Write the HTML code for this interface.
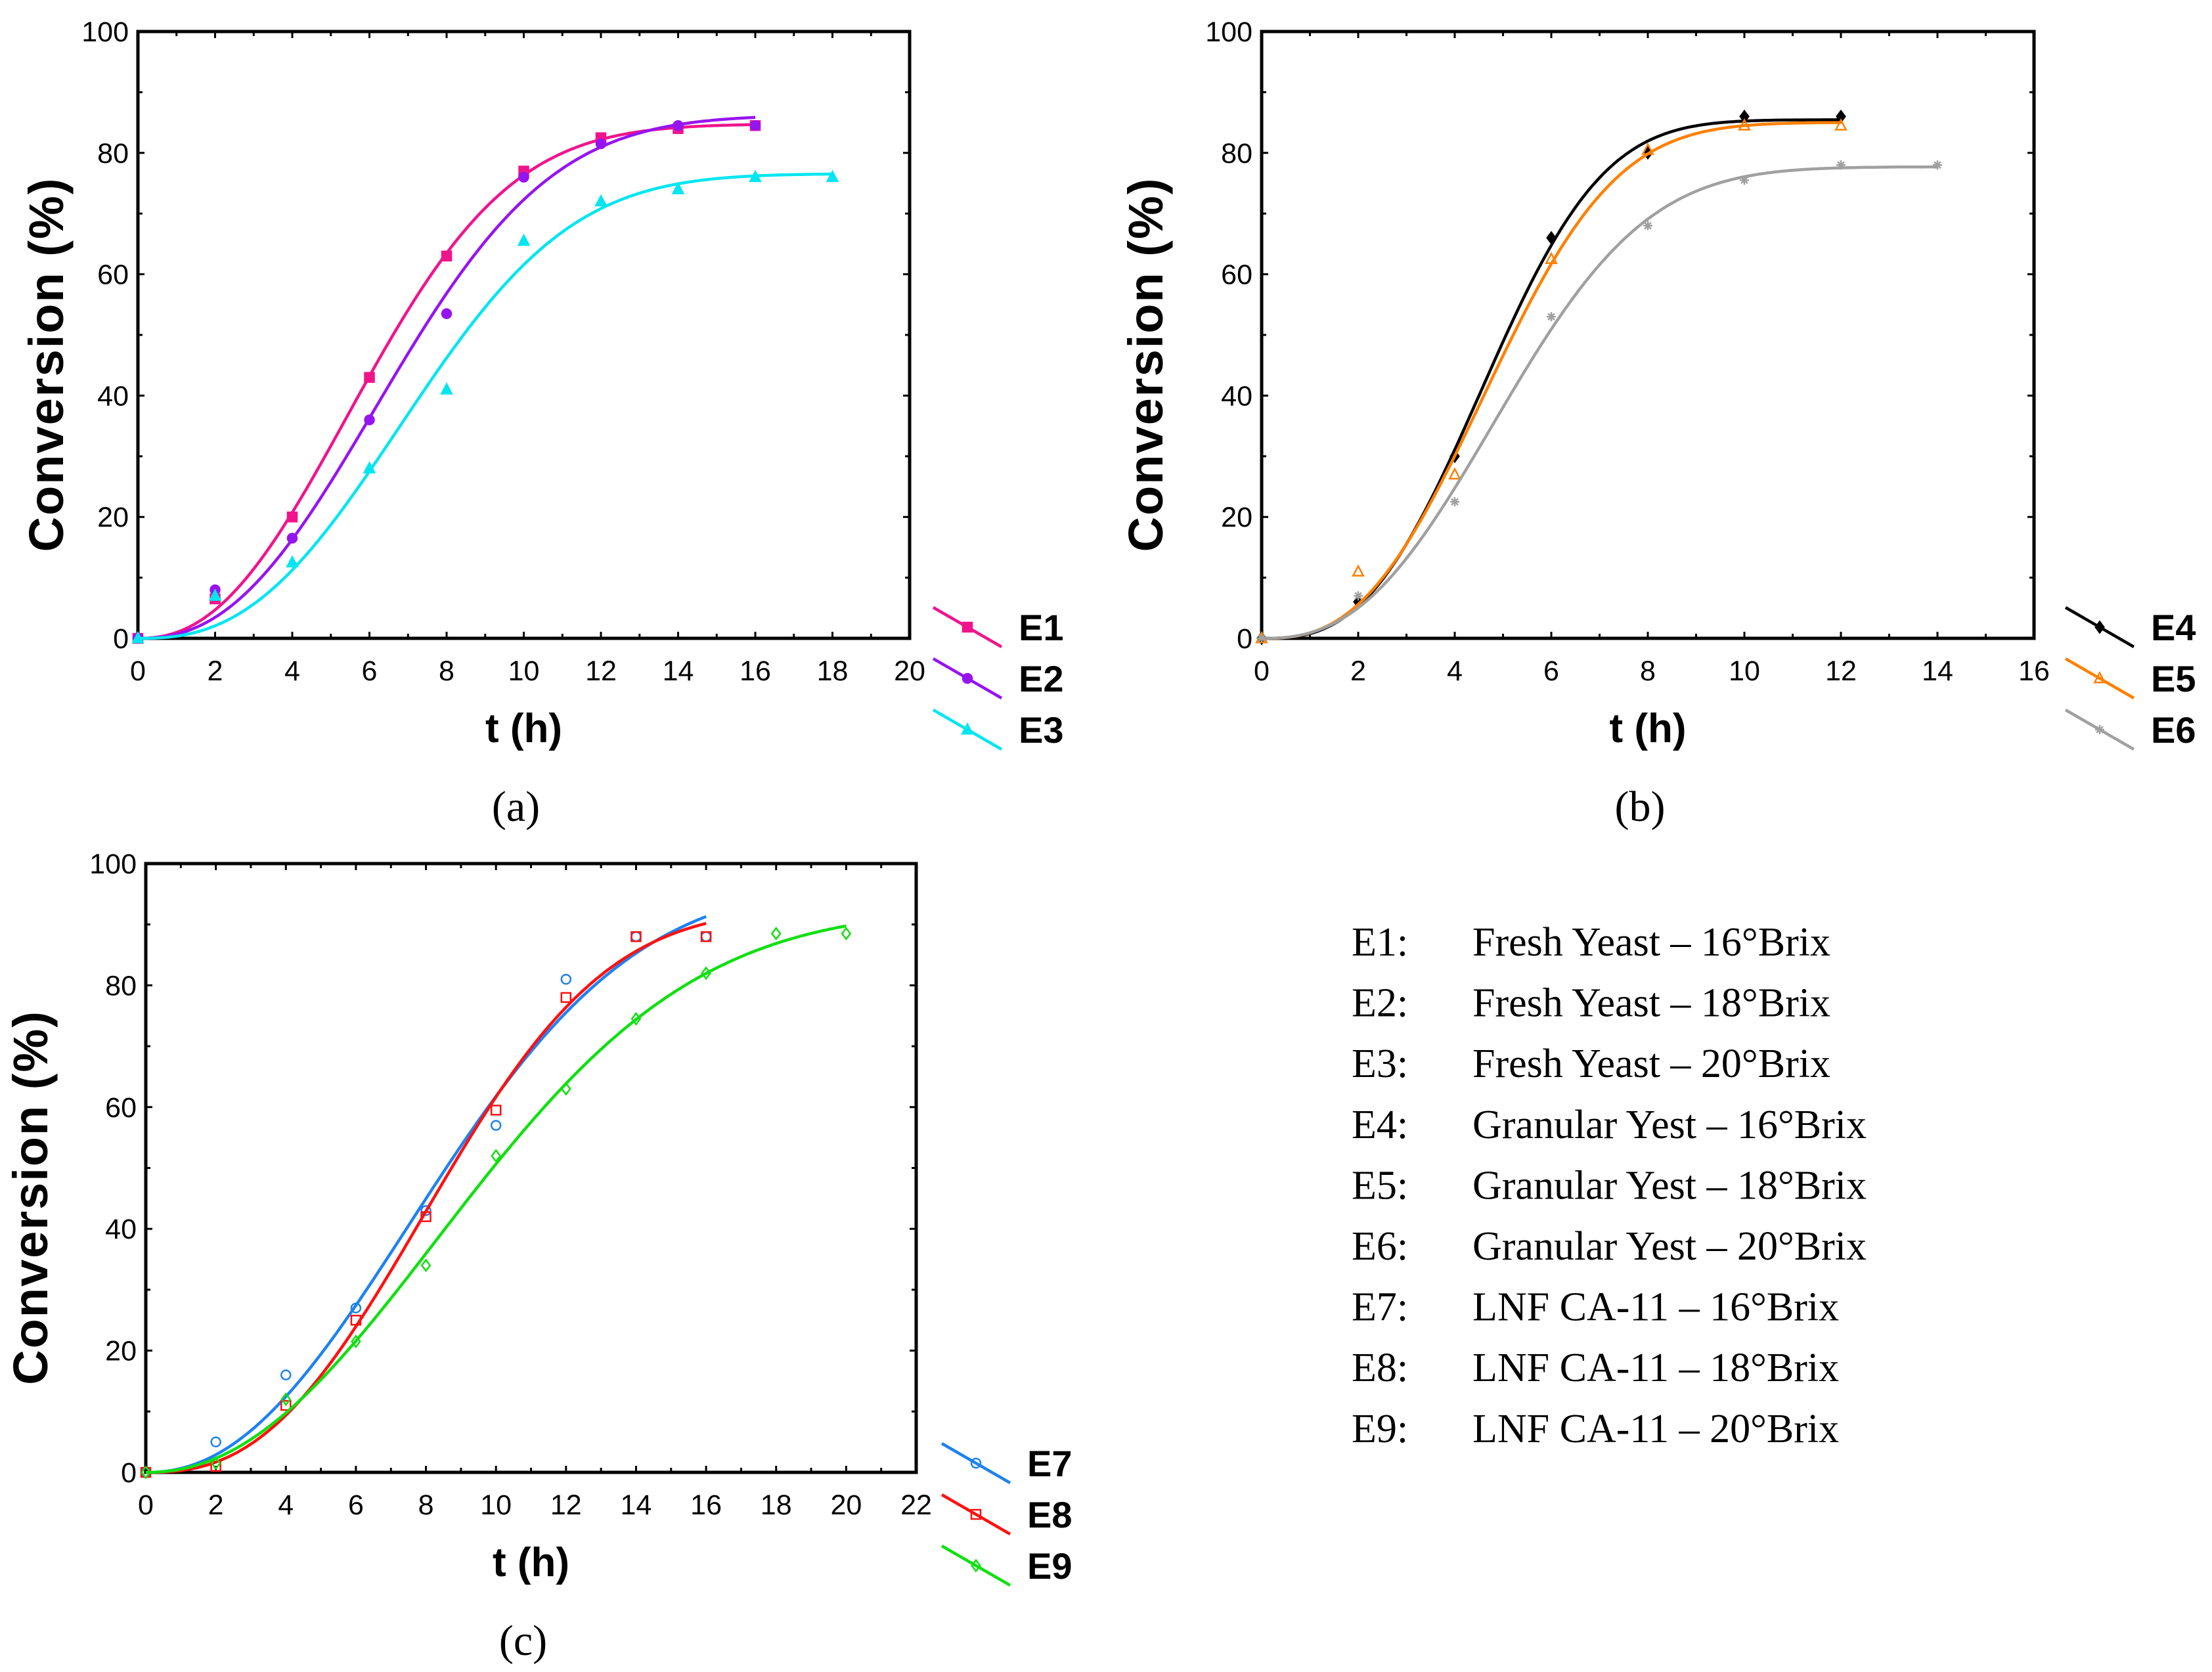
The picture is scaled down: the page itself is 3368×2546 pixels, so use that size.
<!DOCTYPE html>
<html><head><meta charset="utf-8">
<style>
html,body{margin:0;padding:0;background:#fff;}
svg{display:block;}
</style></head>
<body>
<svg id="fig" width="3368" height="2546" viewBox="0 0 3368 2546" xmlns="http://www.w3.org/2000/svg" font-family="Liberation Sans, sans-serif"></svg>
<script>
// ---------- data ----------
const tA = [0,2,4,6,8,10,12,14,16];
const e1 = [0,6.5,20,43,63,77,82.5,84,84.5];
const e2 = [0,8,16.5,36,53.5,76,81.5,84.5,84.5];
const tE3 = [0,2,4,6,8,10,12,14,16,18];
const e3 = [0,7,12.5,28,41,65.5,72,74,76,76];
const tB = [0,2,4,6,8,10,12];
const e4 = [0,6,30,66,80,86,86];
const e5 = [0,11,27,62.5,80.5,84.5,84.5];
const tE6 = [0,2,4,6,8,10,12,14];
const e6 = [0,7,22.5,53,68,75.5,78,78];
const tC = [0,2,4,6,8,10,12,14,16];
const e7 = [0,5,16,27,43,57,81,88,88];
const e8 = [0,1,11,25,42,59.5,78,88,88];
const tE9 = [0,2,4,6,8,10,12,14,16,18,20];
const e9 = [0,1.5,12,21.5,34,52,63,74.5,82,88.5,88.5];
const yTicks = [0,20,40,60,80,100];
const xTicksA = [0,2,4,6,8,10,12,14,16,18,20];
const xTicksB = [0,2,4,6,8,10,12,14,16];
const xTicksC = [0,2,4,6,8,10,12,14,16,18,20,22];
const legendLabels = ["E1:","E2:","E3:","E4:","E5:","E6:","E7:","E8:","E9:"];
const legendDesc = ["Fresh Yeast – 16°Brix","Fresh Yeast – 18°Brix","Fresh Yeast  – 20°Brix","Granular Yest – 16°Brix","Granular Yest – 18°Brix","Granular Yest – 20°Brix","LNF CA-11  – 16°Brix","LNF CA-11 – 18°Brix","LNF CA-11 – 20°Brix"];

const NS="http://www.w3.org/2000/svg";
const svg=document.getElementById('fig');
function mk(tag,attrs,parent){const e=document.createElementNS(NS,tag);for(const k in attrs)e.setAttribute(k,attrs[k]);(parent||svg).appendChild(e);return e;}

// Weibull-type sigmoid fit: y = A*(1-exp(-(x/b)^c))
function sigfit(xs,ys){
  let best={sse:Infinity};
  for(let c=1;c<=5;c+=0.02){
    for(let b=1;b<=25;b+=0.05){
      let sfy=0,sff=0;const f=xs.map(x=>1-Math.exp(-Math.pow(x/b,c)));
      for(let k=0;k<xs.length;k++){sfy+=f[k]*ys[k];sff+=f[k]*f[k];}
      const A=sfy/sff;let sse=0;
      for(let k=0;k<xs.length;k++){const r=ys[k]-A*f[k];sse+=r*r;}
      if(sse<best.sse)best={sse,A,b,c};
    }
  }
  return x=>best.A*(1-Math.exp(-Math.pow(x/best.b,best.c)));
}

function marker(g,type,color,x,y,s){
  let e;
  if(type==='sq'||type==='sqo'){e=mk('rect',{x:x-s/2,y:y-s/2,width:s,height:s,fill:type==='sq'?color:'none',stroke:color,'stroke-width':2.5},g);}
  else if(type==='ci'||type==='cio'){e=mk('circle',{cx:x,cy:y,r:s/2,fill:type==='ci'?color:'none',stroke:color,'stroke-width':2.5},g);}
  else if(type==='tri'||type==='trio'){e=mk('polygon',{points:`${x},${y-s*0.6} ${x-s*0.55},${y+s*0.45} ${x+s*0.55},${y+s*0.45}`,fill:type==='tri'?color:'none',stroke:color,'stroke-width':2.5},g);}
  else if(type==='di'||type==='dio'){e=mk('polygon',{points:`${x},${y-s*0.6} ${x+s*0.45},${y} ${x},${y+s*0.6} ${x-s*0.45},${y}`,fill:type==='di'?color:'none',stroke:color,'stroke-width':2.5},g);}
  else {const r=s/2;e=mk('path',{d:`M${x-r},${y}H${x+r}M${x},${y-r}V${y+r}M${x-r*0.7},${y-r*0.7}L${x+r*0.7},${y+r*0.7}M${x-r*0.7},${y+r*0.7}L${x+r*0.7},${y-r*0.7}`,stroke:color,'stroke-width':2.5,fill:'none'},g);}
  
  
}

function panel(cfg){
  const g=mk('g',{});
  
  
  const {x0,x1,y0,y1,xmax}=cfg;
  const sx=v=>x0+(x1-x0)*v/xmax, sy=v=>y0-(y0-y1)*v/100;
  const tg=mk('g',{stroke:'#000','stroke-width':3},g);
  
  
  for(let v=0;v<=100;v+=10){const L=v%20===0?10:7;mk('line',{x1:x0,y1:sy(v),x2:x0+L,y2:sy(v)},tg);mk('line',{x1:x1,y1:sy(v),x2:x1-L,y2:sy(v)},tg);}
  for(let v=0;v<=xmax;v+=1){const L=v%2===0?10:7;mk('line',{x1:sx(v),y1:y0,x2:sx(v),y2:y0-L},tg);mk('line',{x1:sx(v),y1:y1,x2:sx(v),y2:y1+L},tg);}
  const fr=mk('rect',{x:x0,y:y1,width:x1-x0,height:y0-y1,fill:'none',stroke:'#000','stroke-width':5},g);
  
  
  yTicks.forEach(v=>{const t=mk('text',{x:x0-14,y:sy(v)+15,'text-anchor':'end','font-size':43},g);t.textContent=v;
    
    });
  cfg.xt.forEach(v=>{const t=mk('text',{x:sx(v),y:y0+64,'text-anchor':'middle','font-size':43},g);t.textContent=v;
    
    });
  const yt=mk('text',{x:0,y:0,transform:`translate(${cfg.ytx},${(y0+y1)/2+45}) rotate(-90)`,'text-anchor':'middle','font-size':74,'font-weight':'bold','letter-spacing':2},g);
  yt.textContent='Conversion (%)';
  
  
  const xtt=mk('text',{x:(x0+x1)/2,y:y0+158,'text-anchor':'middle','font-size':62,'font-weight':'bold'},g);
  xtt.textContent='t (h)';
  
  
  const cap=mk('text',{x:(x0+x1)/2-12,y:y0+278,'text-anchor':'middle','font-size':66,'font-family':'Liberation Serif, serif'},g);
  cap.textContent=cfg.cap;
  
  
  cfg.series.forEach((s,i)=>{
    const sg=mk('g',{},g);
    
    
    const fn=sigfit(s.t,s.v);
    const tmax=s.t[s.t.length-1];let d='';
    for(let k=0;k<=200;k++){const tt=tmax*k/200;let yv=fn(tt);yv=Math.max(0,yv);d+=(k?'L':'M')+sx(tt).toFixed(1)+','+sy(yv).toFixed(1);}
    const p=mk('path',{d:d,fill:'none',stroke:s.color,'stroke-width':4.5},sg);
    
    
    s.t.forEach((tt,k)=>marker(sg,s.m,s.color,sx(tt),sy(s.v[k]),14));
    const lx=cfg.lx, ly=cfg.ly+i*78;
    const lg=mk('g',{},g);
    
    
    mk('line',{x1:lx,y1:ly-30,x2:lx+104,y2:ly+30,stroke:s.color,'stroke-width':4.5},lg);
    marker(lg,s.m,s.color,lx+52,ly,14);
    const lt=mk('text',{x:lx+130,y:ly+20,'font-size':56,'font-weight':'bold'},lg);lt.textContent=s.label;
  });
}

panel({name:'panel-a',x0:210,x1:1385,y0:972,y1:48,xmax:20,xt:xTicksA,ytx:96,cap:'(a)',lx:1421,ly:955,
  series:[{label:'E1',t:tA,v:e1,color:'#f0148c',m:'sq'},{label:'E2',t:tA,v:e2,color:'#9614f0',m:'ci'},{label:'E3',t:tE3,v:e3,color:'#00e6f0',m:'tri'}]});
panel({name:'panel-b',x0:1921,x1:3097,y0:972,y1:48,xmax:16,xt:xTicksB,ytx:1770,cap:'(b)',lx:3145,ly:955,
  series:[{label:'E4',t:tB,v:e4,color:'#000000',m:'di'},{label:'E5',t:tB,v:e5,color:'#ff8000',m:'trio'},{label:'E6',t:tE6,v:e6,color:'#a0a0a0',m:'ast'}]});
panel({name:'panel-c',x0:222,x1:1395,y0:2242,y1:1315,xmax:22,xt:xTicksC,ytx:72,cap:'(c)',lx:1434,ly:2228,
  series:[{label:'E7',t:tC,v:e7,color:'#1e82f0',m:'cio'},{label:'E8',t:tC,v:e8,color:'#ff1010',m:'sqo'},{label:'E9',t:tE9,v:e9,color:'#10e010',m:'dio'}]});

const tl=mk('g',{'font-family':'Liberation Serif, serif','font-size':62});


legendLabels.forEach((l,i)=>{
  const y=1455+i*92.6;
  const a=mk('text',{x:2058,y:y},tl);a.textContent=l;
  
  
  const b=mk('text',{x:2242,y:y},tl);b.textContent=legendDesc[i];
  
  
});
</script>
</body></html>
